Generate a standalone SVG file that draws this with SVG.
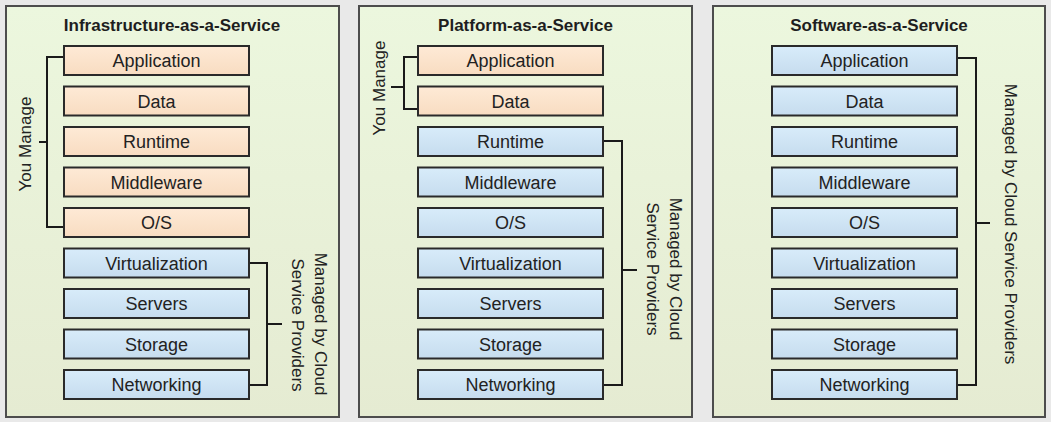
<svg xmlns="http://www.w3.org/2000/svg" width="1051" height="422" viewBox="0 0 1051 422">
<defs>
<linearGradient id="gPanel" x1="0" y1="0" x2="0" y2="1">
<stop offset="0" stop-color="#ecf7de"/>
<stop offset="1" stop-color="#e5ebd2"/>
</linearGradient>
<linearGradient id="gOrange" x1="0" y1="0" x2="0" y2="1">
<stop offset="0" stop-color="#feead6"/>
<stop offset="1" stop-color="#f8dcc1"/>
</linearGradient>
<linearGradient id="gBlue" x1="0" y1="0" x2="0" y2="1">
<stop offset="0" stop-color="#d8ecfa"/>
<stop offset="1" stop-color="#c6dcee"/>
</linearGradient>
</defs>
<style>
.panel{fill:url(#gPanel);stroke:#4d4d4d;stroke-width:2}
.box{stroke:#2a2a2a;stroke-width:2}
.o{fill:url(#gOrange)}
.b{fill:url(#gBlue)}
.title{font-family:"Liberation Sans",Arial,sans-serif;font-weight:bold;font-size:17px;fill:#1e1e1e;text-anchor:middle}
.lbl{font-family:"Liberation Sans",Arial,sans-serif;font-size:18px;fill:#222;text-anchor:middle}
.side{font-family:"Liberation Sans",Arial,sans-serif;font-size:17px;fill:#222;text-anchor:middle}
.br{fill:none;stroke:#1a1a1a;stroke-width:2}
</style>
<rect width="1051" height="422" fill="#e9e9e9"/>

<g id="panel-iaas">
<rect class="panel" x="6" y="6" width="333" height="411"/>
<text class="title" x="172" y="31">Infrastructure-as-a-Service</text>
</g>
<g id="panel-paas">
<rect class="panel" x="359" y="6" width="333" height="411"/>
<text class="title" x="525.5" y="31">Platform-as-a-Service</text>
</g>
<g id="panel-saas">
<rect class="panel" x="713" y="6" width="332" height="411"/>
<text class="title" x="879" y="31">Software-as-a-Service</text>
</g>

<g id="connectors">
<path class="br" d="M64,57 H47 V227 H64 M47,142 H39"/>
<path class="br" d="M249,263 H267 V385 H249 M267,324 H282"/>
<path class="br" d="M418,57 H404 V109 H418 M404,87 H391"/>
<path class="br" d="M603,141 H622 V385 H603 M622,270 H637"/>
<path class="br" d="M957,58 H976 V385 H957 M976,223 H990"/>
</g>

<g id="labels-side">
<text class="side" transform="translate(31,144) rotate(-90)">You Manage</text>
<text class="side" transform="translate(315,324) rotate(90)">Managed by Cloud</text>
<text class="side" transform="translate(292,325) rotate(90)">Service Providers</text>
<text class="side" transform="translate(385,88) rotate(-90)">You Manage</text>
<text class="side" transform="translate(670,269) rotate(90)">Managed by Cloud</text>
<text class="side" transform="translate(647,269) rotate(90)">Service Providers</text>
<text class="side" transform="translate(1005,224) rotate(90)">Managed by Cloud Service Providers</text>
</g>

<g id="iaas-application"><rect class="box o" x="64" y="46" width="185" height="29"/><text class="lbl" x="156.5" y="67">Application</text></g>
<g id="iaas-data"><rect class="box o" x="64" y="86.5" width="185" height="29"/><text class="lbl" x="156.5" y="107.5">Data</text></g>
<g id="iaas-runtime"><rect class="box o" x="64" y="127" width="185" height="29"/><text class="lbl" x="156.5" y="148">Runtime</text></g>
<g id="iaas-middleware"><rect class="box o" x="64" y="167.5" width="185" height="29"/><text class="lbl" x="156.5" y="188.5">Middleware</text></g>
<g id="iaas-os"><rect class="box o" x="64" y="208" width="185" height="29"/><text class="lbl" x="156.5" y="229">O/S</text></g>
<g id="iaas-virtualization"><rect class="box b" x="64" y="248.5" width="185" height="29"/><text class="lbl" x="156.5" y="269.5">Virtualization</text></g>
<g id="iaas-servers"><rect class="box b" x="64" y="289" width="185" height="29"/><text class="lbl" x="156.5" y="310">Servers</text></g>
<g id="iaas-storage"><rect class="box b" x="64" y="329.5" width="185" height="29"/><text class="lbl" x="156.5" y="350.5">Storage</text></g>
<g id="iaas-networking"><rect class="box b" x="64" y="370" width="185" height="29"/><text class="lbl" x="156.5" y="391">Networking</text></g>

<g id="paas-application"><rect class="box o" x="418" y="46" width="185" height="29"/><text class="lbl" x="510.5" y="67">Application</text></g>
<g id="paas-data"><rect class="box o" x="418" y="86.5" width="185" height="29"/><text class="lbl" x="510.5" y="107.5">Data</text></g>
<g id="paas-runtime"><rect class="box b" x="418" y="127" width="185" height="29"/><text class="lbl" x="510.5" y="148">Runtime</text></g>
<g id="paas-middleware"><rect class="box b" x="418" y="167.5" width="185" height="29"/><text class="lbl" x="510.5" y="188.5">Middleware</text></g>
<g id="paas-os"><rect class="box b" x="418" y="208" width="185" height="29"/><text class="lbl" x="510.5" y="229">O/S</text></g>
<g id="paas-virtualization"><rect class="box b" x="418" y="248.5" width="185" height="29"/><text class="lbl" x="510.5" y="269.5">Virtualization</text></g>
<g id="paas-servers"><rect class="box b" x="418" y="289" width="185" height="29"/><text class="lbl" x="510.5" y="310">Servers</text></g>
<g id="paas-storage"><rect class="box b" x="418" y="329.5" width="185" height="29"/><text class="lbl" x="510.5" y="350.5">Storage</text></g>
<g id="paas-networking"><rect class="box b" x="418" y="370" width="185" height="29"/><text class="lbl" x="510.5" y="391">Networking</text></g>

<g id="saas-application"><rect class="box b" x="772" y="46" width="185" height="29"/><text class="lbl" x="864.5" y="67">Application</text></g>
<g id="saas-data"><rect class="box b" x="772" y="86.5" width="185" height="29"/><text class="lbl" x="864.5" y="107.5">Data</text></g>
<g id="saas-runtime"><rect class="box b" x="772" y="127" width="185" height="29"/><text class="lbl" x="864.5" y="148">Runtime</text></g>
<g id="saas-middleware"><rect class="box b" x="772" y="167.5" width="185" height="29"/><text class="lbl" x="864.5" y="188.5">Middleware</text></g>
<g id="saas-os"><rect class="box b" x="772" y="208" width="185" height="29"/><text class="lbl" x="864.5" y="229">O/S</text></g>
<g id="saas-virtualization"><rect class="box b" x="772" y="248.5" width="185" height="29"/><text class="lbl" x="864.5" y="269.5">Virtualization</text></g>
<g id="saas-servers"><rect class="box b" x="772" y="289" width="185" height="29"/><text class="lbl" x="864.5" y="310">Servers</text></g>
<g id="saas-storage"><rect class="box b" x="772" y="329.5" width="185" height="29"/><text class="lbl" x="864.5" y="350.5">Storage</text></g>
<g id="saas-networking"><rect class="box b" x="772" y="370" width="185" height="29"/><text class="lbl" x="864.5" y="391">Networking</text></g>
</svg>
